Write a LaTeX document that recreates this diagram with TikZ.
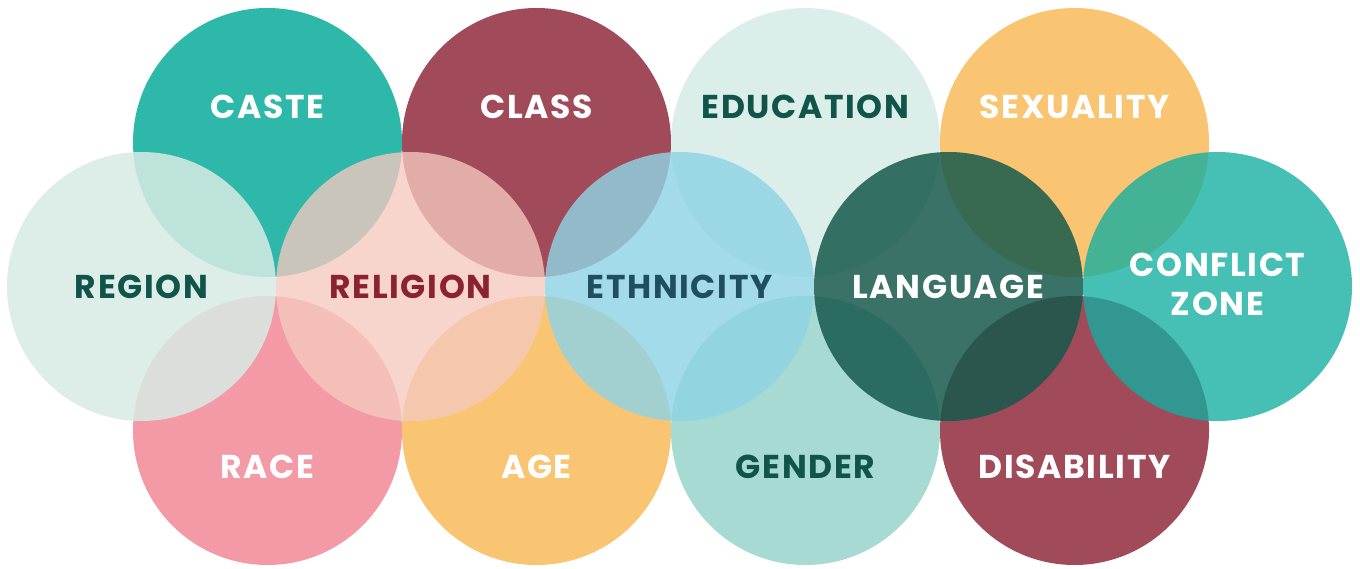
\documentclass[tikz,border=0pt]{standalone}
\usepackage{fontspec}
\setmainfont{Poppins}
\definecolor{cCaste}{HTML}{2EB8A9}
\definecolor{cClass}{HTML}{A04A5A}
\definecolor{cEdu}{HTML}{DCEEE9}
\definecolor{cSex}{HTML}{F9C572}
\definecolor{cRegion}{HTML}{D7EBE4}
\definecolor{cReligion}{HTML}{F5C9BF}
\definecolor{cEth}{HTML}{8FD3E5}
\definecolor{cLang}{HTML}{17594C}
\definecolor{cConf}{HTML}{12ADA0}
\definecolor{cRace}{HTML}{F39AA6}
\definecolor{cAge}{HTML}{F9C572}
\definecolor{cGender}{HTML}{A6DAD3}
\definecolor{cDis}{HTML}{A04A5A}
\definecolor{tGreen}{HTML}{10544A}
\definecolor{tMaroon}{HTML}{8B2232}
\definecolor{tTeal}{HTML}{1F4F5E}
\begin{document}
\begin{tikzpicture}[x=1pt,y=-1pt,
  blob/.style={circle, minimum size=269pt, inner sep=0pt, draw=none},
  midblob/.style={blob, fill opacity=#1},
  lbl/.style={font=\bfseries\fontsize{33}{39}\selectfont\addfontfeatures{LetterSpace=5}, text=white, align=center, inner sep=0pt}]
\useasboundingbox (0,0) rectangle (1360,568);
% top row
\node[blob, fill=cCaste] (caste) at (267.5,142.5) {};
\node[blob, fill=cClass] (class) at (536.5,142.5) {};
\node[blob, fill=cEdu] (edu) at (805.5,142.5) {};
\node[blob, fill=cSex] (sex) at (1074.5,142.5) {};
% bottom row
\node[blob, fill=cRace] (race) at (267.5,430.5) {};
\node[blob, fill=cAge] (age) at (536.5,430.5) {};
\node[blob, fill=cGender] (gender) at (805.5,430.5) {};
\node[blob, fill=cDis] (dis) at (1074.5,430.5) {};
% middle row
\node[midblob=0.85, fill=cRegion] (region) at (141.5,286.5) {};
\node[midblob=0.78, fill=cReligion] (religion) at (410.5,286.5) {};
\node[midblob=0.82, fill=cEth] (eth) at (679.5,286.5) {};
\node[midblob=0.85, fill=cLang] (lang) at (948.5,286.5) {};
\node[midblob=0.78, fill=cConf] (conf) at (1217.5,286.5) {};
% labels
\node[lbl] (tCaste) at ([yshift=36pt]caste.center) {CASTE};
\node[lbl] (tClass) at ([yshift=36pt]class.center) {CLASS};
\node[lbl, text=tGreen] (tEdu) at ([yshift=36pt]edu.center) {EDUCATION};
\node[lbl] (tSex) at ([yshift=36pt]sex.center) {SEXUALITY};
\node[lbl, text=tGreen] (tRegion) at (region.center) {REGION};
\node[lbl, text=tMaroon] (tReligion) at (religion.center) {RELIGION};
\node[lbl, text=tTeal] (tEth) at (eth.center) {ETHNICITY};
\node[lbl] (tLang) at (lang.center) {LANGUAGE};
\node[lbl] (tConf) at ([yshift=2pt]conf.center) {CONFLICT\\ZONE};
\node[lbl] (tRace) at ([yshift=-36pt]race.center) {RACE};
\node[lbl] (tAge) at ([yshift=-36pt]age.center) {AGE};
\node[lbl, text=tGreen] (tGender) at ([yshift=-36pt]gender.center) {GENDER};
\node[lbl] (tDis) at ([yshift=-36pt]dis.center) {DISABILITY};
\end{tikzpicture}
\end{document}
